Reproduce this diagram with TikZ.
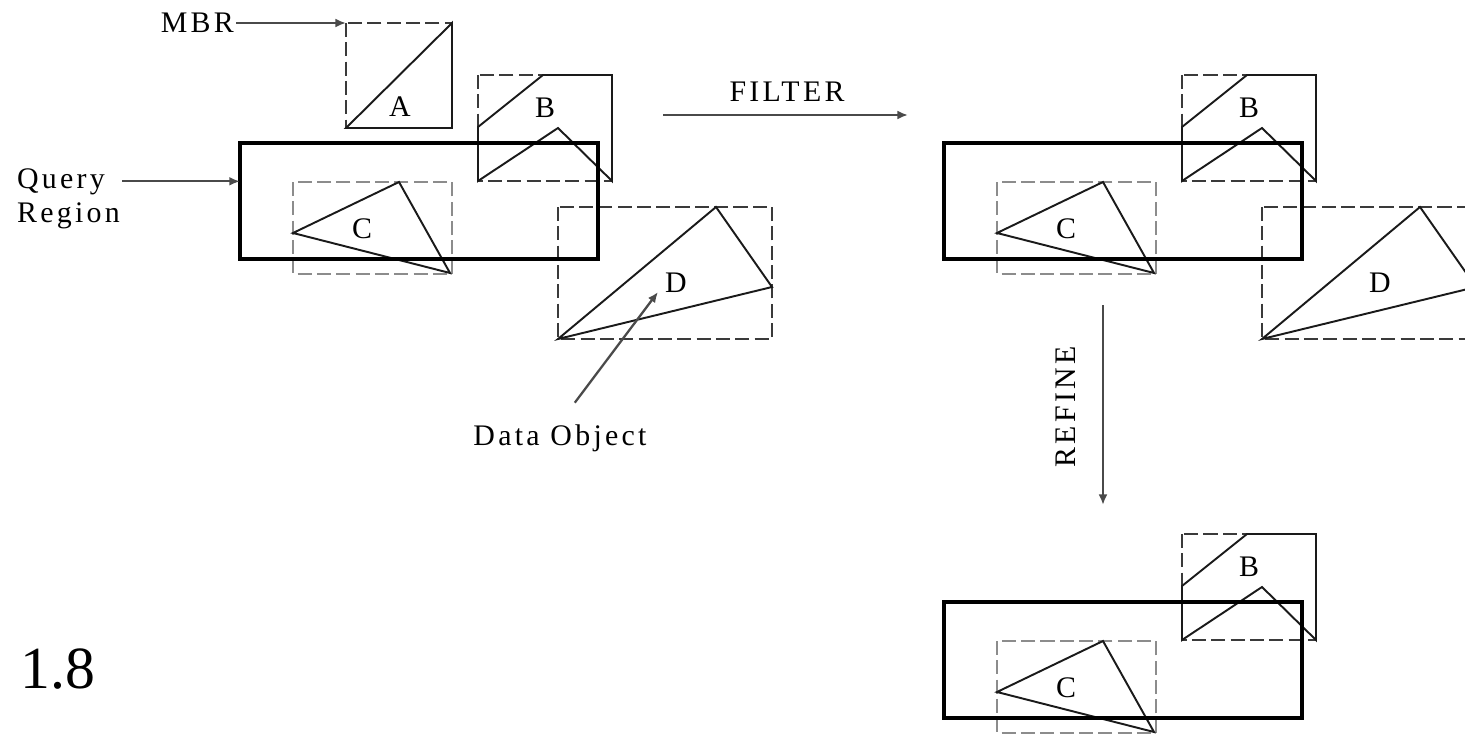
\documentclass[tikz,border=0pt]{standalone}
\usepackage{fontspec}
\setmainfont{Liberation Serif}
\newfontfamily\lblfont[LetterSpace=11]{Liberation Serif}
\usetikzlibrary{arrows.meta,positioning,calc}
\definecolor{cQry}{HTML}{000000}
\definecolor{cObj}{HTML}{1A1A1A}
\definecolor{cMbr}{HTML}{3A3A3A}
\definecolor{cMbrLt}{HTML}{8C8C8C}
\definecolor{cArr}{HTML}{4A4A4A}
\tikzset{
  qry/.style  ={draw=cQry,line width=2.3pt},
  mbr/.style  ={draw=cMbr,line width=1.2pt,dash pattern=on 8pt off 3pt},
  mbrlt/.style={mbr,draw=cMbrLt,line width=1.5pt},
  obj/.style  ={draw=cObj,line width=1.1pt,line join=miter},
  flow/.style ={-{Latex[length=6pt,width=5pt]},line width=1.3pt,draw=cArr},
  lbl/.style  ={font=\lblfont\fontsize{17}{20}\selectfont,inner sep=1pt},
}
% one object with its MBR, #1 = name of the letter node
\newcommand{\objB}[1]{%
  \draw[mbr] (478,75) rectangle (612,181);
  \draw[obj] (478,127) -- (543,75) -- (612,75) -- (612,181) -- (558,128) -- (478,181) -- cycle;
  \node[lbl] (#1) at (545,108) {B};}
\newcommand{\objC}[1]{%
  \draw[mbrlt] (293,182) rectangle (452,274);
  \draw[obj] (293,233) -- (399,182) -- (450,273) -- cycle;
  \node[lbl] (#1) at (362,229) {C};}
\newcommand{\objD}[1]{%
  \draw[mbr] (558,207) rectangle (772,339);
  \draw[obj] (558,339) -- (716,207) -- (772,287) -- cycle;
  \node[lbl] (#1) at (676,283) {D};}

\begin{document}
\begin{tikzpicture}[x=0.02cm,y=-0.02cm]
\useasboundingbox (0,0) rectangle (1465,737);

% ---------------------------------------------------------------- BEFORE
\coordinate (qNW) at (240,143);
\coordinate (aNW) at (346,23);
\draw[mbr] (aNW) rectangle (452,128);
\draw[obj] (452,23) -- (346,128) -- (452,128) -- cycle;
\node[lbl] (labA) at (400,107) {A};
\objB{labB}
\objC{labC}
\objD{labD}
\draw[qry] (qNW) rectangle (598,259);

\node[lbl,anchor=east] (mbr) at (236,23) {MBR};
\node[lbl,anchor=base west] (qry1) at (15,188) {Query};
\node[lbl,anchor=base west] (qry2) at (15,222) {Region};
\node[lbl] (dobj) at (560,438) {Data Object};
\coordinate (dtip) at (658,292);

\draw[flow] (mbr.east) -- (aNW);
\draw[flow] ($(qry1.east)+(15,0)$) -- (qry1.east -| qNW);
\draw[flow,shorten <=14pt] (dobj.north) -- (dtip);

% ---------------------------------------------------------------- FILTER
\node[lbl] (filt) at (787,92) {FILTER};
\coordinate (f0) at (663,115);
\coordinate (f1) at (908,115);
\draw[flow] (f0) -- (f1);

\begin{scope}[shift={(704,0)}]
\objB{labB2}
\objC{labC2}
\objD{labD2}
\draw[qry] (240,143) rectangle (598,259);
\end{scope}

% ---------------------------------------------------------------- REFINE
\node[lbl,rotate=90] (refn) at (1066,407) {REFINE};
\coordinate (r0) at (1103,305);
\coordinate (r1) at (1103,505);
\draw[flow] (r0) -- (r1);

\begin{scope}[shift={(704,459)}]
\objB{labB3}
\objC{labC3}
\draw[qry] (240,143) rectangle (598,259);
\end{scope}

\node[font=\fontsize{34}{40}\selectfont,anchor=base west,inner sep=0pt] (fig) at (20,688) {1.8};

\end{tikzpicture}
\end{document}
